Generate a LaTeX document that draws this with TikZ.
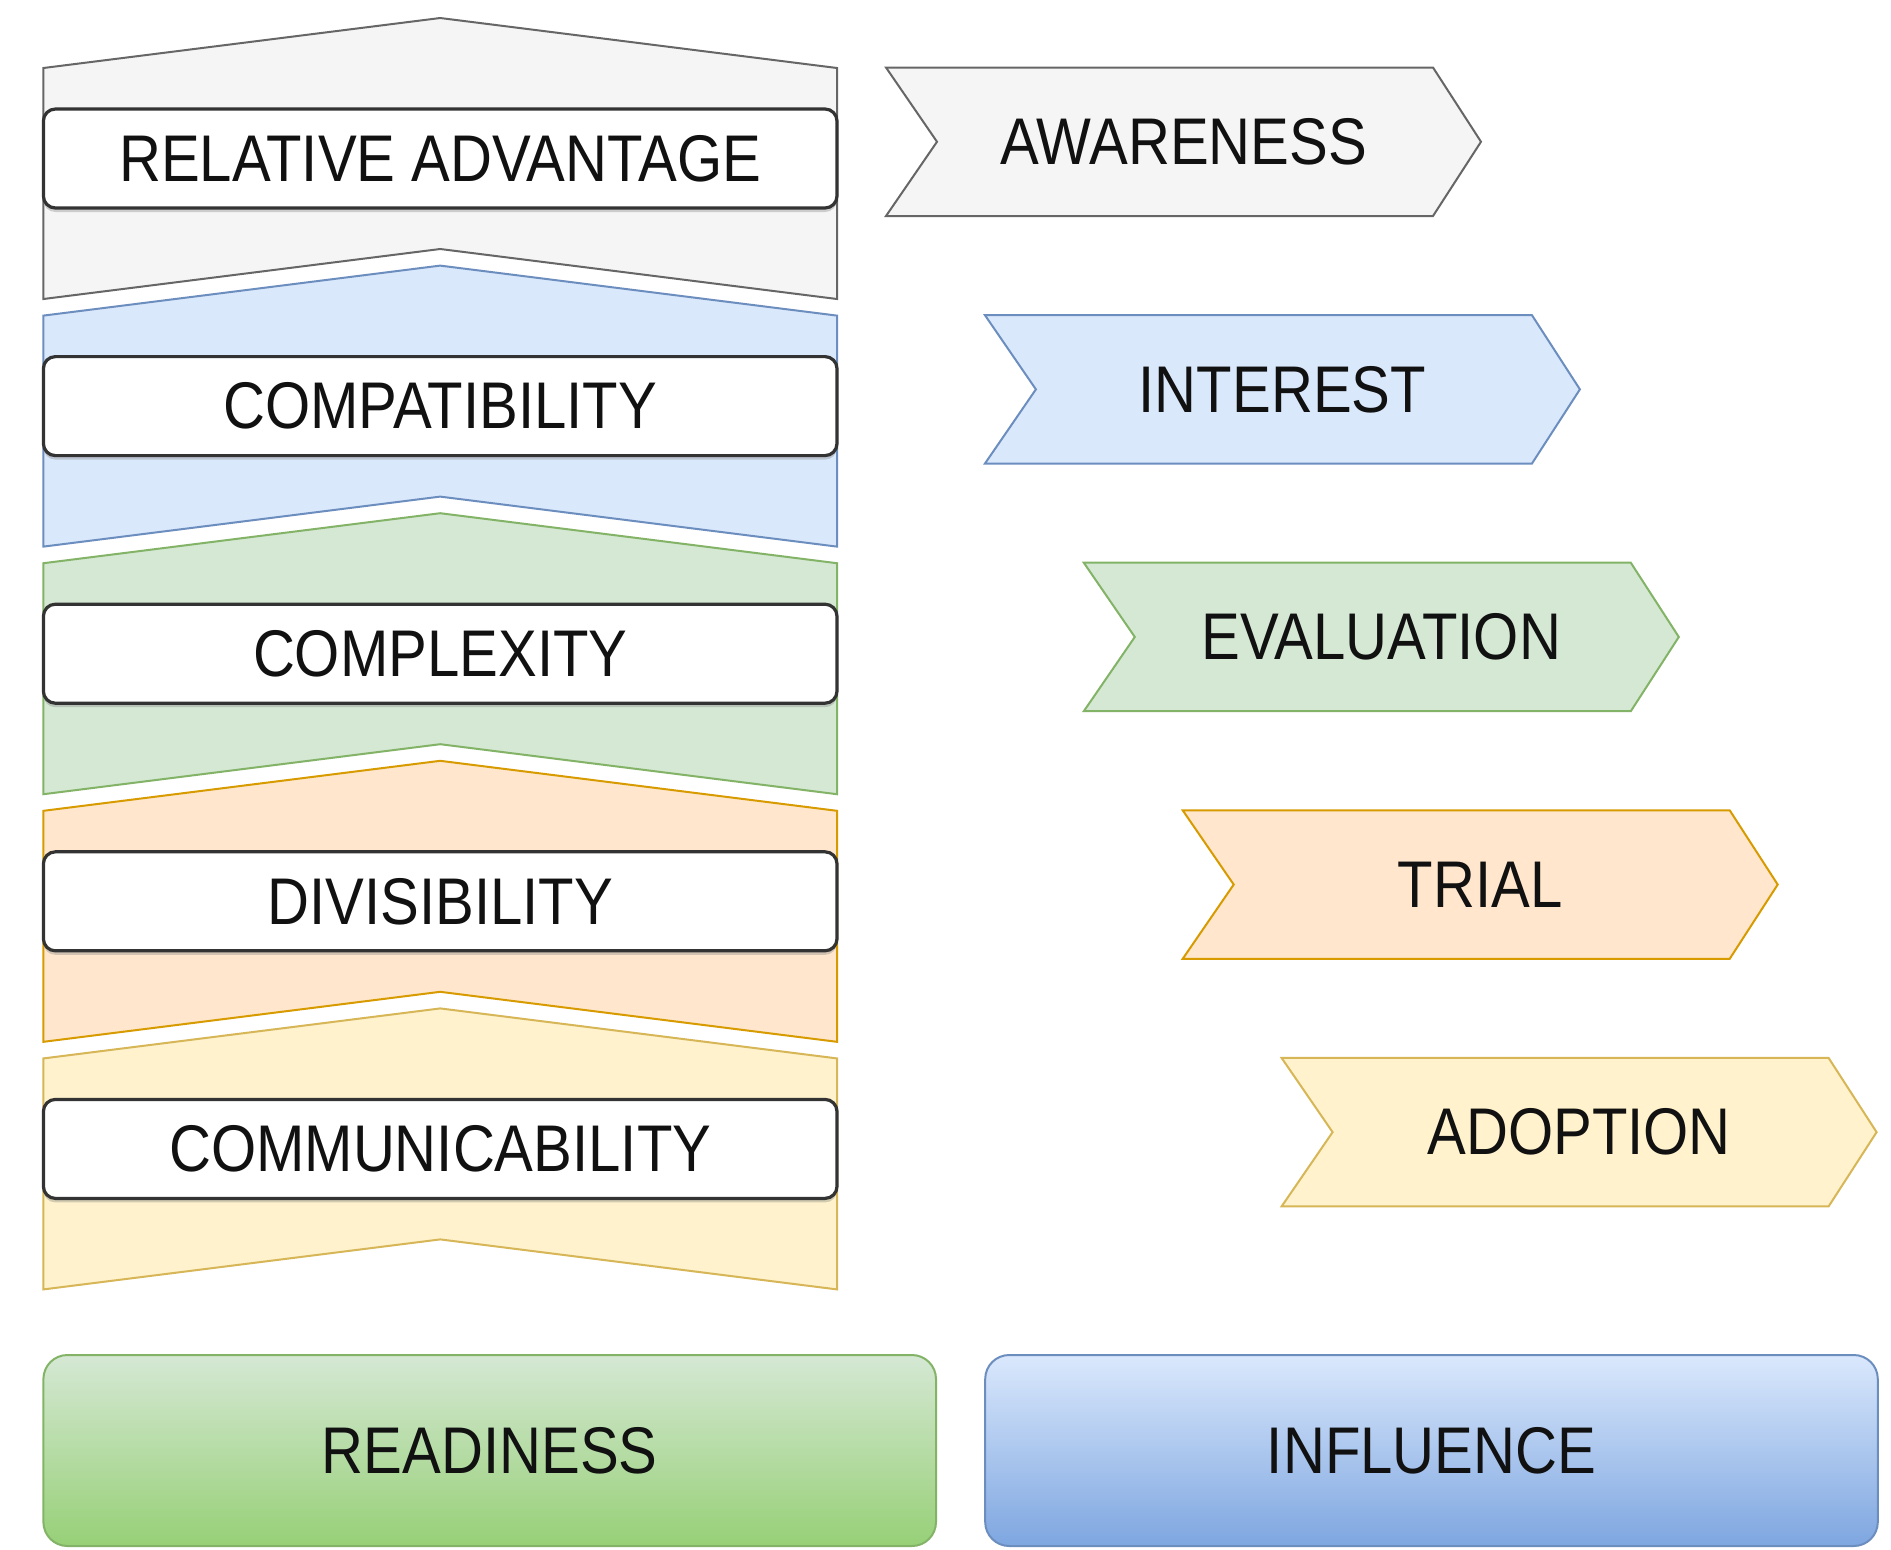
\documentclass[tikz,border=0pt]{standalone}
\usepackage{fontspec}
\setmainfont{Liberation Sans}[FakeStretch=0.88]
\usetikzlibrary{shadows}
\definecolor{gF}{HTML}{F5F5F5}\definecolor{gL}{HTML}{666666}
\definecolor{bF}{HTML}{DAE8FC}\definecolor{bL}{HTML}{6C8EBF}
\definecolor{grF}{HTML}{D5E8D4}\definecolor{grL}{HTML}{82B366}
\definecolor{oF}{HTML}{FFE6CC}\definecolor{oL}{HTML}{D79B00}
\definecolor{yF}{HTML}{FFF2CC}\definecolor{yL}{HTML}{D6B656}
\definecolor{grBot}{HTML}{97D077}
\definecolor{bBot}{HTML}{7EA6E0}
\definecolor{txt}{HTML}{111111}
\tikzset{
  bigfont/.style={font=\fontsize{33pt}{38pt}\selectfont, text=txt},
  chev/.style={line width=1pt, line join=miter},
  labelbox/.style={bigfont, draw=black!80, line width=1.6pt, fill=white,
    rounded corners=6pt, minimum width=396.8pt, minimum height=49.5pt,
    inner sep=0pt, drop shadow={shadow xshift=0pt, shadow yshift=-2pt, opacity=0.35}},
  steplabel/.style={bigfont, inner sep=0pt},
  basebox/.style={bigfont, line width=1pt, rounded corners=12pt,
    minimum width=446.3pt, minimum height=95.5pt, inner sep=0pt}
}
\begin{document}
\begin{tikzpicture}[x=0.5pt,y=-0.5pt]
\useasboundingbox (0,0) rectangle (1891,1549);

% left stacked chevrons
\foreach \i/\f/\l in {0/gF/gL,1/bF/bL,2/grF/grL,3/oF/oL,4/yF/yL}{
  \pgfmathsetmacro\t{18+247.6*\i}
  \path[chev, fill=\f, draw=\l] (43.4,{\t+50}) -- (440.2,\t) -- (837,{\t+50})
     -- (837,{\t+281}) -- (440.2,{\t+231}) -- (43.4,{\t+281}) -- cycle;
}

% label boxes
\node[labelbox] (ra) at (440.2,158.5) {RELATIVE ADVANTAGE};
\node[labelbox] (cpt) at (440.2,406.1) {COMPATIBILITY};
\node[labelbox] (cpx) at (440.2,653.7) {COMPLEXITY};
\node[labelbox] (div) at (440.2,901.3) {DIVISIBILITY};
\node[labelbox] (com) at (440.2,1148.9) {COMMUNICABILITY};

% right step arrows
\foreach \i/\f/\l/\nm/\txt in {0/gF/gL/aw/AWARENESS,1/bF/bL/in/INTEREST,2/grF/grL/ev/EVALUATION,3/oF/oL/tr/TRIAL,4/yF/yL/ad/ADOPTION}{
  \pgfmathsetmacro\L{886+98.9*\i}
  \pgfmathsetmacro\T{67.5+247.6*\i}
  \path[chev, fill=\f, draw=\l] (\L,\T) -- ({\L+547},\T) -- ({\L+595},{\T+74.25})
     -- ({\L+547},{\T+148.5}) -- (\L,{\T+148.5}) -- ({\L+51},{\T+74.25}) -- cycle;
  \node[steplabel] (\nm) at ({\L+297.5},{\T+74.25}) {\txt};
}

% bottom boxes
\node[basebox, draw=grL, top color=grF, bottom color=grBot] (rd) at (489.7,1450.5) {READINESS};
\node[basebox, draw=bL, top color=bF, bottom color=bBot] (inf) at (1431.5,1450.5) {INFLUENCE};
\end{tikzpicture}
\end{document}
